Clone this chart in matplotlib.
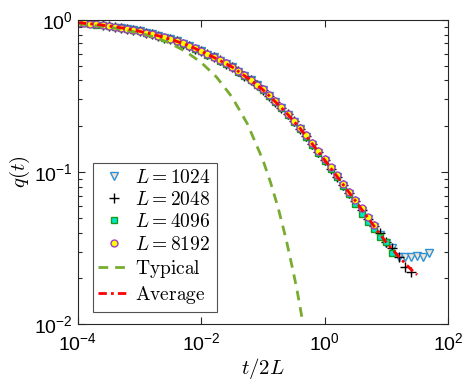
import numpy as np
import matplotlib
matplotlib.use("Agg")
import matplotlib.pyplot as plt
from matplotlib.ticker import FixedLocator, FixedFormatter, LogLocator, NullFormatter

plt.rcParams['mathtext.fontset'] = 'cm'
plt.rcParams['font.family'] = ['Liberation Sans', 'DejaVu Sans']

# sampling grid, log10(t/2L)
log_t2L = [-4.0, -3.9, -3.8, -3.7, -3.6, -3.5, -3.4, -3.3, -3.2, -3.1,
           -3.0, -2.9, -2.8, -2.7, -2.6, -2.5, -2.4, -2.3, -2.2, -2.1,
           -2.0, -1.9, -1.8, -1.7, -1.6, -1.5, -1.4, -1.3, -1.2, -1.1,
           -1.0, -0.9, -0.8, -0.7, -0.6, -0.5, -0.4, -0.3, -0.2, -0.1,
           0.0, 0.1, 0.2, 0.3, 0.4, 0.5, 0.6, 0.7, 0.8, 0.9,
           1.0, 1.1, 1.2, 1.3, 1.4, 1.5, 1.6, 1.7]

# average curve, q(t)
q_avg = [0.959, 0.951, 0.942, 0.933, 0.923, 0.912, 0.900, 0.887, 0.873, 0.857,
         0.841, 0.824, 0.805, 0.787, 0.766, 0.745, 0.723, 0.700, 0.676, 0.649,
         0.621, 0.594, 0.568, 0.542, 0.516, 0.490, 0.459, 0.430, 0.402, 0.374,
         0.347, 0.318, 0.290, 0.265, 0.240, 0.216, 0.194, 0.173, 0.153, 0.136,
         0.120, 0.106, 0.0938, 0.0828, 0.0731, 0.0646, 0.0569, 0.0501, 0.0442, 0.0389,
         0.0345, 0.0309, 0.0279, 0.0252, 0.0229, 0.0211]

# L = 8192 : grid index 0..48
q_8192 = [0.960, 0.952, 0.943, 0.934, 0.924, 0.913, 0.901, 0.888, 0.874, 0.858,
          0.842, 0.825, 0.807, 0.788, 0.768, 0.747, 0.725, 0.702, 0.678, 0.651,
          0.623, 0.596, 0.570, 0.544, 0.518, 0.492, 0.461, 0.432, 0.404, 0.376,
          0.349, 0.320, 0.292, 0.267, 0.242, 0.218, 0.196, 0.175, 0.155, 0.138,
          0.122, 0.108, 0.0950, 0.0840, 0.0742, 0.0655, 0.0578, 0.0508, 0.0448]

# L = 4096 : grid index 0..51
q_4096 = [0.958, 0.950, 0.941, 0.932, 0.922, 0.911, 0.899, 0.886, 0.872, 0.856,
          0.840, 0.823, 0.804, 0.786, 0.765, 0.744, 0.722, 0.699, 0.675, 0.648,
          0.620, 0.592, 0.566, 0.540, 0.514, 0.488, 0.457, 0.428, 0.400, 0.372,
          0.345, 0.316, 0.288, 0.263, 0.238, 0.214, 0.192, 0.171, 0.151, 0.134,
          0.118, 0.104, 0.0920, 0.0810, 0.0715, 0.0615, 0.0530, 0.0470, 0.0420, 0.0372,
          0.0347, 0.0295]

# L = 2048 : grid index 4..54
q_2048 = [0.922, 0.911, 0.899, 0.886, 0.872, 0.856,
          0.840, 0.823, 0.804, 0.786, 0.765, 0.744, 0.722, 0.699, 0.675, 0.648,
          0.620, 0.593, 0.567, 0.541, 0.515, 0.489, 0.458, 0.429, 0.401, 0.373,
          0.346, 0.317, 0.289, 0.264, 0.239, 0.215, 0.193, 0.172, 0.152, 0.135,
          0.119, 0.105, 0.0930, 0.0820, 0.0725, 0.0640, 0.0560, 0.0490, 0.0440, 0.0400,
          0.0345, 0.0318, 0.0275, 0.0237, 0.0219]

# L = 1024 : grid index 7..57
q_1024 = [0.886, 0.872, 0.856,
          0.840, 0.823, 0.804, 0.786, 0.765, 0.744, 0.722, 0.699, 0.675, 0.648,
          0.620, 0.592, 0.566, 0.540, 0.514, 0.488, 0.457, 0.428, 0.400, 0.372,
          0.345, 0.316, 0.288, 0.263, 0.238, 0.214, 0.192, 0.171, 0.151, 0.134,
          0.118, 0.104, 0.0925, 0.0815, 0.0720, 0.0635, 0.0555, 0.0490, 0.0432, 0.0385,
          0.0342, 0.0318, 0.0278, 0.0275, 0.0277, 0.0280, 0.0276, 0.0295]

# typical curve
x_typ = [1e-4, 3.16e-4, 1e-3, 1.78e-3, 3.16e-3, 5.62e-3, 1e-2, 1.78e-2, 3.16e-2,
         5.62e-2, 0.1, 0.133, 0.178, 0.237, 0.316, 0.355, 0.398, 0.427, 0.447]
q_typ = [0.942, 0.898, 0.822, 0.768, 0.701, 0.619, 0.525, 0.420, 0.311,
         0.207, 0.120, 0.0855, 0.0576, 0.0364, 0.0214, 0.0170, 0.0132, 0.0112, 0.0101]

x_ticks = [1e-4, 1e-2, 1, 1e2]
x_ticklabels = [r'$\mathregular{10^{-4}}$', r'$\mathregular{10^{-2}}$',
                r'$\mathregular{10^{0}}$', r'$\mathregular{10^{2}}$']
y_ticks = [1e-2, 1e-1, 1]
y_ticklabels = [r'$\mathregular{10^{-2}}$', r'$\mathregular{10^{-1}}$',
                r'$\mathregular{10^{0}}$']

x = 10.0 ** np.array(log_t2L)

fig = plt.figure(figsize=(4.69, 3.90), dpi=100)
ax = fig.add_axes([0.166, 0.169, 0.789, 0.780])

ax.plot(x[7:58], q_1024, 'v', ms=6, mec='#2a93d8', mfc='#f6e3d0', mew=1.0,
        label=r'$L = 1024$')
ax.plot(x[4:55], q_2048, '+', ms=7, color='black', mew=1.0,
        label=r'$L = 2048$')
ax.plot(x[0:52], q_4096, 's', ms=5, mec='#1a9a1a', mfc='#00e6c8', mew=1.0,
        label=r'$L = 4096$')
ax.plot(x[0:49], q_8192, 'o', ms=5, mec='#a040c0', mfc='#ffff00', mew=1.0,
        label=r'$L = 8192$')
ax.plot(x_typ, q_typ, '--', color='#77ac30', lw=2.0, dashes=(3.5, 2.5),
        label=r'$\mathrm{Typical}$')
ax.plot(x[0:56], q_avg, '-.', color='#ff0000', lw=2.0, dashes=(3, 1.5, 1, 1.5),
        label=r'$\mathrm{Average}$')

ax.set_xscale('log')
ax.set_yscale('log')
ax.set_xlim(1e-4, 1e2)
ax.set_ylim(1e-2, 1)

ax.xaxis.set_major_locator(FixedLocator(x_ticks))
ax.xaxis.set_major_formatter(FixedFormatter(x_ticklabels))
ax.xaxis.set_minor_locator(FixedLocator([]))
ax.yaxis.set_major_locator(FixedLocator(y_ticks))
ax.yaxis.set_major_formatter(FixedFormatter(y_ticklabels))
ax.yaxis.set_minor_locator(LogLocator(base=10, subs=np.arange(2, 10)))
ax.yaxis.set_minor_formatter(NullFormatter())

ax.tick_params(which='both', direction='in', top=True, right=True,
               colors='#262626', labelcolor='black', labelsize=14, width=0.8)
ax.tick_params(which='major', length=5)
ax.tick_params(which='minor', length=3)
ax.tick_params(axis='x', pad=6)
for s in ax.spines.values():
    s.set_color('#262626')
    s.set_linewidth(0.8)

ax.set_xlabel(r'$t/2L$', fontsize=15, labelpad=1)
ax.set_ylabel(r'$q(t)$', fontsize=15, labelpad=2)

leg = ax.legend(loc='lower left', bbox_to_anchor=(0.04, 0.04), fontsize=14,
                frameon=True, fancybox=False, edgecolor='#262626',
                handlelength=1.6, handletextpad=0.3, labelspacing=0.22,
                borderpad=0.3, borderaxespad=0)
leg.get_frame().set_linewidth(0.8)

fig.savefig('out.png', dpi=100)
